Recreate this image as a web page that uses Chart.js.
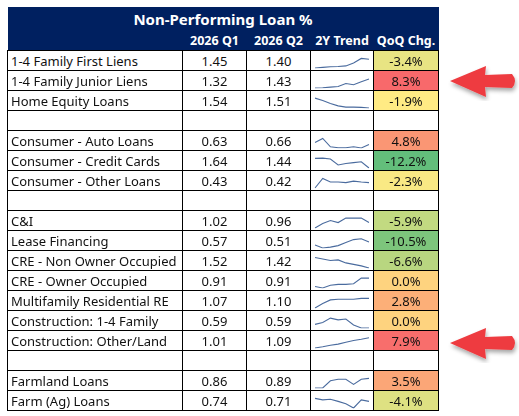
<!DOCTYPE html>
<html>
<head>
<meta charset="utf-8">
<script src="https://cdn.jsdelivr.net/npm/chart.js@4"></script>
<style>
  body { margin: 0; background: #fff; font-family: "Noto Sans", sans-serif; }
  #wrap { position: relative; width: 519px; height: 416px; }
  table { position: absolute; left: 7px; top: 7px; border-collapse: collapse; table-layout: fixed; }
  td { border: 1px solid #000; height: 19px; padding: 0; font-size: 13px; color: #111; text-align: center; }
  td.lbl { text-align: left; padding-left: 3px; white-space: nowrap; }
  tr.title td { background: #002060; color: #fff; font-weight: bold; font-size: 15px; height: 23px; border: none; }
  tr.head td { background: #002060; color: #fff; font-weight: bold; font-size: 12.5px; height: 20px; border: none; }
  canvas { display: block; }
  svg { position: absolute; left: 0; top: 0; }
</style>
</head>
<body>
<div id="wrap">
<table id="tbl">
  <colgroup><col style="width:175px"><col style="width:64px"><col style="width:64px"><col style="width:63px"><col style="width:65px"></colgroup>
</table>
<svg width="519" height="416">
  <defs><filter id="sh"><feDropShadow dx="1" dy="3" stdDeviation="2" flood-opacity="0.35"/></filter></defs>
  <path id="arrow" d="M450 81 L486 66 L485 75 L512 74 Q518 81 512 88 L485 87 L486 97 Z" fill="#ee3b3f" filter="url(#sh)"/>
  <path d="M450 343 L486 328 L485 337 L512 336 Q518 343 512 350 L485 349 L486 359 Z" fill="#ee3b3f" filter="url(#sh)"/>
</svg>
</div>
<script>
// Categories (null = spacer row)
const categories = [
  '1-4 Family First Liens', '1-4 Family Junior Liens', 'Home Equity Loans', null,
  'Consumer - Auto Loans', 'Consumer - Credit Cards', 'Consumer - Other Loans', null,
  'C&I', 'Lease Financing', 'CRE - Non Owner Occupied', 'CRE - Owner Occupied',
  'Multifamily Residential RE', 'Construction: 1-4 Family', 'Construction: Other/Land', null,
  'Farmland Loans', 'Farm (Ag) Loans'
];
const q1 = ['1.45','1.32','1.54',null,'0.63','1.64','0.43',null,'1.02','0.57','1.52','0.91','1.07','0.59','1.01',null,'0.86','0.74'];
const q2 = ['1.40','1.43','1.51',null,'0.66','1.44','0.42',null,'0.96','0.51','1.42','0.91','1.10','0.59','1.09',null,'0.89','0.71'];
const qoq = [-3.4, 8.3, -1.9, null, 4.8, -12.2, -2.3, null, -5.9, -10.5, -6.6, 0.0, 2.8, 0.0, 7.9, null, 3.5, -4.1];
// 2Y trend, 8 quarters, relative levels read from the sparklines
const trends = [
  [0, 2, 4, 5, 7, 17, 32, 29],
  [0, 1, 3, 5, 15, 11, 21, 30],
  [33, 25, 15, 7, 3, 3, 2, 0],
  null,
  [18, 32, 4, 1, 1, 4, 0, 12],
  [32, 33, 30, 10, 15, 18, 21, 0],
  [0, 32, 20, 20, 18, 23, 20, 18],
  null,
  [0, 15, 25, 18, 33, 33, 33, 18],
  [10, 0, 3, 8, 18, 28, 31, 20],
  [35, 30, 25, 27, 17, 12, 7, 0],
  [5, 0, 9, 12, 12, 14, 33, 33],
  [0, 15, 27, 29, 29, 29, 32, 32],
  [12, 18, 33, 27, 30, 10, 0, 0],
  [0, 4, 9, 13, 19, 25, 29, 34],
  null,
  [0, 0, 24, 29, 29, 12, 29, 32],
  [32, 27, 29, 22, 14, 0, 27, 22]
];
const colQ1 = '2026 Q1', colQ2 = '2026 Q2', colTrend = '2Y Trend', colChg = 'QoQ Chg.';

// 3-colour scale: green (min) - yellow (median) - red (max)
function scaleColor(v) {
  const vals = qoq.filter(x => x !== null).sort((a, b) => a - b);
  const min = vals[0], max = vals[vals.length - 1], mid = vals[Math.floor(vals.length / 2)];
  const g = [99, 190, 123], y = [255, 235, 132], r = [248, 105, 107];
  let a, b, t;
  if (v <= mid) { a = g; b = y; t = (v - min) / (mid - min); }
  else { a = y; b = r; t = (v - mid) / (max - mid); }
  const c = a.map((x, i) => Math.round(x + (b[i] - x) * t));
  return 'rgb(' + c.join(',') + ')';
}

const tbl = document.getElementById('tbl');
tbl.insertAdjacentHTML('beforeend',
  '<tr class="title"><td colspan="5">Non-Performing Loan %</td></tr>' +
  `<tr class="head"><td></td><td>${colQ1}</td><td>${colQ2}</td><td>${colTrend}</td><td>${colChg}</td></tr>`);

categories.forEach((cat, i) => {
  const tr = document.createElement('tr');
  if (cat === null) {
    tr.innerHTML = '<td></td><td></td><td></td><td></td><td></td>';
  } else {
    tr.innerHTML = `<td class="lbl"></td><td>${q1[i]}</td><td>${q2[i]}</td>` +
      `<td><canvas width="62" height="19"></canvas></td>` +
      `<td style="background:${scaleColor(qoq[i])}">${qoq[i].toFixed(1)}%</td>`;
    tr.querySelector('.lbl').textContent = cat;
  }
  tbl.appendChild(tr);
  if (cat === null) return;
  new Chart(tr.querySelector('canvas'), {
    type: 'line',
    data: {
      labels: trends[i].map((_, k) => k),
      datasets: [{ data: trends[i], borderColor: '#4a6b9e', borderWidth: 1.1, pointRadius: 0, tension: 0 }]
    },
    options: {
      responsive: false,
      animation: false,
      layout: { padding: { left: 4, right: 4, top: 2, bottom: 2 } },
      plugins: { legend: { display: false }, tooltip: { enabled: false } },
      scales: { x: { display: false }, y: { display: false } }
    }
  });
});
</script>
</body>
</html>
